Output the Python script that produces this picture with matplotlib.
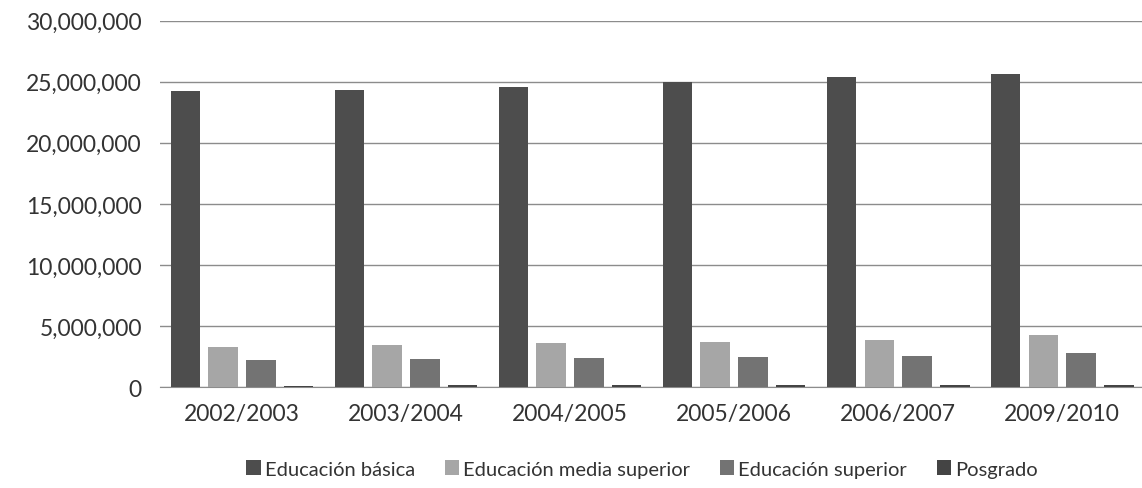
import matplotlib
matplotlib.use("Agg")
import matplotlib.pyplot as plt  # noqa: E402
import numpy as np  # noqa: E402
from matplotlib.ticker import FuncFormatter  # noqa: E402

years = ["2002/2003", "2003/2004", "2004/2005", "2005/2006", "2006/2007", "2009/2010"]
basica = [24.20e6, 24.30e6, 24.60e6, 24.98e6, 25.38e6, 25.66e6]
media_superior = [3.30e6, 3.47e6, 3.60e6, 3.72e6, 3.83e6, 4.25e6]
superior = [2.24e6, 2.33e6, 2.40e6, 2.45e6, 2.55e6, 2.78e6]
posgrado = [0.14e6, 0.15e6, 0.15e6, 0.16e6, 0.17e6, 0.19e6]

series = [("Educación básica", basica, "#4d4d4d"),
          ("Educación media superior", media_superior, "#a6a6a6"),
          ("Educación superior", superior, "#737373"),
          ("Posgrado", posgrado, "#444444")]

plt.rcParams["font.family"] = ["Lato", "DejaVu Sans"]

fig = plt.figure(figsize=(11.42, 4.89), dpi=100)
ax = fig.add_axes([0.14, 0.206, 0.862, 0.75])

x = np.arange(len(years))
w = 0.18
step = 0.23
for i, (name, vals, col) in enumerate(series):
    ax.bar(x + (i - 1.5) * step, vals, w, color=col, label=name, zorder=3)

ax.set_ylim(0, 30e6)
ax.set_yticks(np.arange(0, 30e6 + 1, 5e6))
ax.yaxis.set_major_formatter(FuncFormatter(lambda v, p: f"{int(v):,}"))
ax.set_xlim(-0.5, len(years) - 0.5)
ax.set_xticks(x)
ax.set_xticklabels(years)
ax.tick_params(axis="both", length=0, labelsize=16.5, colors="#333333", pad=11)
ax.tick_params(axis="y", pad=13)
ax.grid(axis="y", color="#8c8c8c", lw=1, zorder=0)
for s in ("top", "right", "left"):
    ax.spines[s].set_visible(False)
ax.spines["bottom"].set_color("#8c8c8c")

ax.legend(loc="upper center", bbox_to_anchor=(0.49, -0.15), ncol=4, frameon=False,
          fontsize=14.5, handlelength=0.7, handleheight=0.7, handletextpad=0.2,
          columnspacing=1.5, labelcolor="#333333")

fig.savefig("out.png", dpi=100)
